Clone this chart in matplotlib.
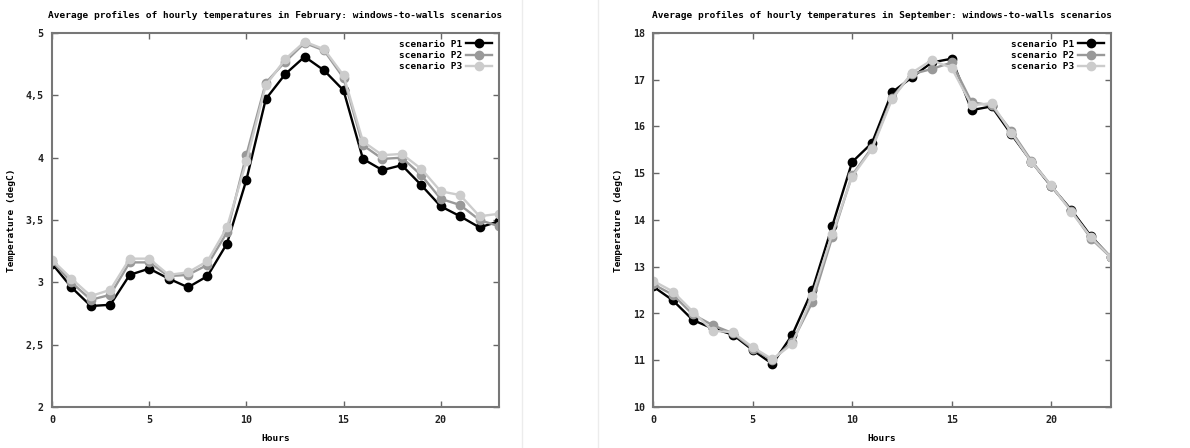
"""
Average hourly temperature profiles, February and September, windows-to-walls scenarios.
"""

import numpy as np
import matplotlib
matplotlib.use('Agg')
import matplotlib.pyplot as plt
from matplotlib.lines import Line2D
from matplotlib.ticker import FuncFormatter

hours = np.arange(24)
scenarios = ['scenario P1', 'scenario P2', 'scenario P3']
colors = ['#000000', '#999999', '#cccccc']

feb_p1 = [3.15, 2.96, 2.81, 2.82, 3.06, 3.11, 3.03, 2.96, 3.05, 3.31, 3.82, 4.47,
          4.67, 4.81, 4.70, 4.54, 3.99, 3.90, 3.94, 3.78, 3.61, 3.53, 3.44, 3.49]
feb_p2 = [3.17, 3.00, 2.86, 2.90, 3.16, 3.16, 3.05, 3.06, 3.14, 3.40, 4.02, 4.60,
          4.77, 4.92, 4.86, 4.64, 4.10, 3.99, 4.00, 3.86, 3.67, 3.62, 3.50, 3.45]
feb_p3 = [3.18, 3.03, 2.89, 2.94, 3.19, 3.19, 3.06, 3.08, 3.17, 3.44, 3.97, 4.58,
          4.79, 4.93, 4.87, 4.66, 4.13, 4.02, 4.03, 3.91, 3.73, 3.70, 3.53, 3.55]

sep_p1 = [12.58, 12.28, 11.86, 11.68, 11.55, 11.22, 10.92, 11.55, 12.50, 13.87, 15.24, 15.65,
          16.73, 17.05, 17.37, 17.45, 16.35, 16.43, 15.83, 15.25, 14.72, 14.22, 13.65, 13.20]
sep_p2 = [12.63, 12.40, 11.98, 11.75, 11.58, 11.25, 11.00, 11.40, 12.24, 13.63, 14.96, 15.55,
          16.62, 17.12, 17.23, 17.37, 16.52, 16.45, 15.90, 15.27, 14.73, 14.20, 13.60, 13.20]
sep_p3 = [12.70, 12.47, 12.04, 11.63, 11.60, 11.28, 11.02, 11.35, 12.38, 13.70, 14.93, 15.52,
          16.58, 17.15, 17.42, 17.25, 16.45, 16.50, 15.86, 15.24, 14.74, 14.18, 13.63, 13.20]

FONT = dict(family='DejaVu Sans Mono', weight='bold', size=6.8)
TICKFONT = dict(family='DejaVu Sans Mono', weight='bold', size=7.2)
W, H = 1190, 448

fig = plt.figure(figsize=(W / 100, H / 100), dpi=100)

panels = [
    ('Average profiles of hourly temperatures in February: windows-to-walls scenarios',
     [feb_p1, feb_p2, feb_p3], (2, 5), np.arange(2, 5.01, 0.5), (52, 499)),
    ('Average profiles of hourly temperatures in September: windows-to-walls scenarios',
     [sep_p1, sep_p2, sep_p3], (10, 18), np.arange(10, 18.01, 1), (653, 1111)),
]

def comma_fmt(v, pos):
    s = f'{v:g}'
    return s.replace('.', ',')

for title, series, ylim, yticks, (x0, x1) in panels:
    ax = fig.add_axes([x0 / W, 1 - 407 / H, (x1 - x0) / W, (407 - 33) / H])
    for vals, name, c in zip(series, scenarios, colors):
        ax.plot(hours, vals, color=c, lw=1.7, marker='o', ms=6, mec=c, label=name)
    ax.set_xlim(0, 23)
    ax.set_ylim(*ylim)
    ax.set_xticks(range(0, 21, 5))
    ax.set_yticks(yticks)
    ax.yaxis.set_major_formatter(FuncFormatter(comma_fmt))
    ax.tick_params(direction='in', length=4, width=1, color='#666666',
                   top=True, right=True, pad=6)
    for lab in ax.get_xticklabels() + ax.get_yticklabels():
        lab.set_fontproperties(TICKFONT)
        lab.set_color('#222222')
    for sp in ax.spines.values():
        sp.set_color('#777777')
        sp.set_linewidth(1.5)
    ax.set_xlabel('Hours', fontdict=FONT, labelpad=6)
    ax.set_ylabel('Temperature (degC)', fontdict=FONT, labelpad=7)
    fig.text((x0 + x1) / 2 / W, 1 - 15 / H, title, ha='center', va='center', **FONT)
    leg = ax.legend(loc='upper right', frameon=False, markerfirst=False, prop=FONT,
                    handlelength=2.8, labelspacing=0.25, borderaxespad=0.3,
                    handletextpad=0.4)

# faint borders of the two screenshots
fig.add_artist(Line2D([522 / W, 522 / W], [0, 1], color='#ececec', lw=1))
fig.add_artist(Line2D([598 / W, 598 / W], [0, 1], color='#ececec', lw=1))

fig.savefig('out.png', dpi=100)
